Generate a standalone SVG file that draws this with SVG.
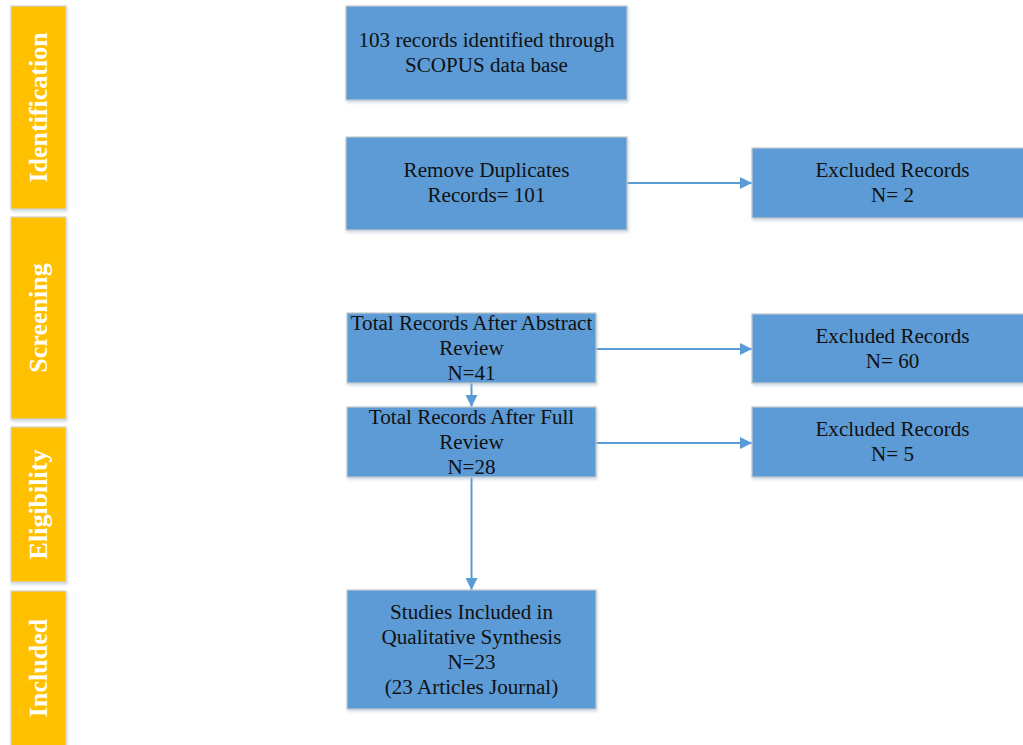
<svg xmlns="http://www.w3.org/2000/svg" width="1023" height="745" viewBox="0 0 1023 745">
  <defs>
    <filter id="shadow" x="-10%" y="-10%" width="130%" height="140%">
      <feDropShadow dx="1" dy="2" stdDeviation="1.8" flood-color="#9fb6cc" flood-opacity="0.5"/>
    </filter>
    <marker id="arrow" viewBox="0 0 12 12" refX="12" refY="6" markerWidth="12" markerHeight="12" markerUnits="userSpaceOnUse" orient="auto">
      <path d="M0,0 L12,6 L0,12 Z" fill="#5B9BD5"/>
    </marker>
  </defs>
  <style>
    .phase { fill: #FFC000; stroke: #d2d2d2; stroke-width: 1.2; filter: url(#shadow); }
    .phase-label { font-family: "Liberation Serif", "Times New Roman", serif; font-weight: bold; font-size: 26px; fill: #ffffff; text-anchor: middle; }
    .box { fill: #5B9BD5; stroke: #c4c8cc; stroke-width: 1.2; filter: url(#shadow); }
    .label { font-family: "Liberation Serif", "Times New Roman", serif; font-size: 21.1px; fill: #111111; text-anchor: middle; }
    .conn { stroke: #5B9BD5; stroke-width: 2; fill: none; marker-end: url(#arrow); }
  </style>
  <rect width="1023" height="745" fill="#ffffff"/>

  <!-- phase bars -->
  <g id="phase-identification">
    <rect class="phase" x="11" y="6" width="55" height="203"/>
    <text class="phase-label" transform="translate(47,107.5) rotate(-90)">Identification</text>
  </g>
  <g id="phase-screening">
    <rect class="phase" x="11" y="217" width="55" height="202"/>
    <text class="phase-label" transform="translate(47,318) rotate(-90)">Screening</text>
  </g>
  <g id="phase-eligibility">
    <rect class="phase" x="11" y="427" width="55" height="155"/>
    <text class="phase-label" transform="translate(47,504.5) rotate(-90)">Eligibility</text>
  </g>
  <g id="phase-included">
    <rect class="phase" x="11" y="591" width="55" height="160"/>
    <text class="phase-label" transform="translate(47,668) rotate(-90)">Included</text>
  </g>

  <!-- connectors -->
  <g id="connectors">
    <line class="conn" x1="627" y1="183" x2="752" y2="183"/>
    <line class="conn" x1="596" y1="349" x2="752" y2="349"/>
    <line class="conn" x1="596" y1="443" x2="752" y2="443"/>
    <line class="conn" x1="471.5" y1="383" x2="471.5" y2="407"/>
    <line class="conn" x1="471.5" y1="477" x2="471.5" y2="590"/>
  </g>

  <!-- flow boxes -->
  <g id="identified">
    <rect class="box" x="346" y="6" width="281" height="94"/>
    <text class="label" x="486.5" y="47">103 records identified through</text>
    <text class="label" x="486.5" y="72">SCOPUS data base</text>
  </g>
  <g id="duplicates">
    <rect class="box" x="346" y="137" width="281" height="93"/>
    <text class="label" x="486.5" y="177">Remove Duplicates</text>
    <text class="label" x="486.5" y="202">Records= 101</text>
  </g>
  <g id="excluded-duplicates">
    <rect class="box" x="752" y="148" width="281" height="70"/>
    <text class="label" x="892.5" y="176.5">Excluded Records</text>
    <text class="label" x="892.5" y="201.5">N= 2</text>
  </g>
  <g id="abstract-review">
    <rect class="box" x="347" y="313" width="249" height="70"/>
    <text class="label" x="471.5" y="329.5">Total Records After Abstract</text>
    <text class="label" x="471.5" y="354.5">Review</text>
    <text class="label" x="471.5" y="379.5">N=41</text>
  </g>
  <g id="excluded-abstract">
    <rect class="box" x="752" y="314" width="281" height="69"/>
    <text class="label" x="892.5" y="343">Excluded Records</text>
    <text class="label" x="892.5" y="368">N= 60</text>
  </g>
  <g id="full-review">
    <rect class="box" x="347" y="407" width="249" height="70"/>
    <text class="label" x="471.5" y="423.5">Total Records After Full</text>
    <text class="label" x="471.5" y="448.5">Review</text>
    <text class="label" x="471.5" y="473.5">N=28</text>
  </g>
  <g id="excluded-full">
    <rect class="box" x="752" y="407" width="281" height="70"/>
    <text class="label" x="892.5" y="435.5">Excluded Records</text>
    <text class="label" x="892.5" y="460.5">N= 5</text>
  </g>
  <g id="included">
    <rect class="box" x="347" y="590" width="249" height="119"/>
    <text class="label" x="471.5" y="618.5">Studies Included in</text>
    <text class="label" x="471.5" y="643.5">Qualitative Synthesis</text>
    <text class="label" x="471.5" y="668.5">N=23</text>
    <text class="label" x="471.5" y="693.5">(23 Articles Journal)</text>
  </g>
</svg>
